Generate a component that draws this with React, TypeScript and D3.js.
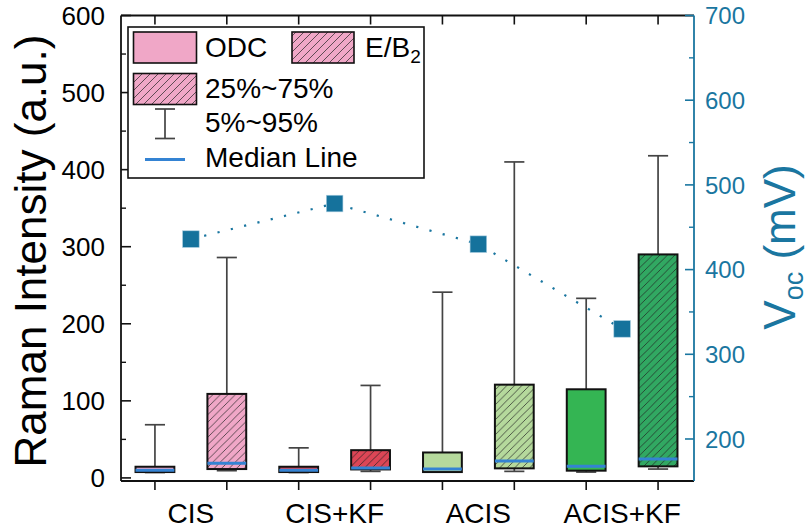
import React from "react";
import * as d3 from "d3";

// Categories and the two sample types per category
const categories = ["CIS", "CIS+KF", "ACIS", "ACIS+KF"];
const sampleTypes = ["ODC", "E/B2"];

// Box statistics, one entry per box (ODC, E/B2 for each category in order)
const whiskerLow = [7, 9.4, 7, 8.5, 7.6, 8.5, 7.6, 11.5];
const q1 = [7.6, 11.5, 7.6, 11, 7.6, 12.4, 9.4, 15];
const median = [10, 19, 10, 13, 11.5, 22, 15, 24.5];
const q3 = [14.5, 109, 14.5, 36, 33, 121, 115, 290];
const whiskerHigh = [69, 286, 39, 120, 241, 410, 233, 418];
const boxColors = ["#f0a7c7", "#f0a7c7", "#dc4656", "#dc4656", "#b5d99c", "#b5d99c", "#34b553", "#31a862"];
const boxHatched = [false, true, false, true, false, true, false, true];

// Open-circuit voltage per category (mV)
const voc = [436, 478, 430, 330];

// Axis ticks
const leftTicks = [0, 100, 200, 300, 400, 500, 600];
const leftMinor = [50, 150, 250, 350, 450, 550];
const rightTicks = [200, 300, 400, 500, 600, 700];
const rightMinor = [250, 350, 450, 550, 650];

const FONT = "'Liberation Sans', Arial, Helvetica, sans-serif";
const BLUE = "#1a76a0";
const MEDIAN = "#3483d3";

export default function App() {
  const W = 809, H = 531;
  const left = 121, right = 694, top = 15.5, bottom = 481;

  const x = d3.scaleLinear().domain([0.5, 8.5]).range([119, 694]);
  const yL = d3.scaleLinear().domain([-4, 600]).range([bottom, top]);
  const yR = d3.scaleLinear().domain([150.4, 700]).range([bottom, top]);
  const boxW = 0.54;
  const capW = 0.28;

  const boxes = whiskerLow.map((lo, i) => ({
    pos: i + 1,
    lo, q1: q1[i], med: median[i], q3: q3[i], hi: whiskerHigh[i],
    color: boxColors[i], hatched: boxHatched[i],
  }));

  const vocPts = voc.map((v, i) => ({ px: x(2 * i + 1.5), py: yR(v) }));
  const vocLine = d3.line<{ px: number; py: number }>().x(d => d.px).y(d => d.py)(vocPts) || "";

  const hatchId = (c: string) => "hatch-" + c.replace("#", "");
  const uniqueHatch = Array.from(new Set(boxes.filter(b => b.hatched).map(b => b.color)));

  const tickPositions = d3.range(1, 9);

  return (
    <svg width={W} height={H} style={{ position: "absolute", left: 0, top: 0, background: "#fff" }} fontFamily={FONT}>
      <defs>
        {uniqueHatch.map(c => (
          <pattern key={c} id={hatchId(c)} patternUnits="userSpaceOnUse" width={7.5} height={7.5}>
            <rect width={7.5} height={7.5} fill={c} />
            <path d="M-1,1 l2,-2 M0,7.5 l7.5,-7.5 M6.5,8.5 l2,-2" stroke="#222" strokeWidth={0.7} />
          </pattern>
        ))}
        <pattern id="hatch-legend" patternUnits="userSpaceOnUse" width={8} height={8}>
          <rect width={8} height={8} fill="#f0a7c7" />
          <path d="M-1,1 l2,-2 M0,8 l8,-8 M7,9 l2,-2" stroke="#222" strokeWidth={0.7} />
        </pattern>
      </defs>

      {/* Voc dotted connector */}
      <path d={vocLine} fill="none" stroke={BLUE} strokeWidth={2.2} strokeDasharray="2.2 11.5" />

      {/* Box plots */}
      {boxes.map((b, i) => {
        const cx = x(b.pos);
        const x0 = x(b.pos - boxW / 2), x1 = x(b.pos + boxW / 2);
        const c0 = x(b.pos - capW / 2), c1 = x(b.pos + capW / 2);
        return (
          <g key={i}>
            <line x1={cx} x2={cx} y1={yL(b.lo)} y2={yL(b.hi)} stroke="#444" strokeWidth={1.7} />
            <line x1={c0} x2={c1} y1={yL(b.hi)} y2={yL(b.hi)} stroke="#444" strokeWidth={1.7} />
            <line x1={c0} x2={c1} y1={yL(b.lo)} y2={yL(b.lo)} stroke="#444" strokeWidth={1.7} />
            <rect x={x0} y={yL(b.q3)} width={x1 - x0} height={yL(b.q1) - yL(b.q3)}
              fill={b.hatched ? `url(#${hatchId(b.color)})` : b.color} stroke="#111" strokeWidth={2} />
            <line x1={x0} x2={x1} y1={yL(b.med)} y2={yL(b.med)} stroke={MEDIAN} strokeWidth={3} />
          </g>
        );
      })}

      {/* Voc markers */}
      {vocPts.map((p, i) => (
        <rect key={i} x={p.px - 8.3} y={p.py - 8.3} width={16.6} height={16.6} fill="#15729c" stroke="#a9cde0" strokeWidth={0.6} />
      ))}

      {/* Frame */}
      <line x1={left} x2={right} y1={top} y2={top} stroke="#111" strokeWidth={1.8} />
      <line x1={left} x2={right} y1={bottom} y2={bottom} stroke="#111" strokeWidth={1.8} />
      <line x1={left} x2={left} y1={top} y2={bottom} stroke="#111" strokeWidth={1.8} />
      <line x1={right} x2={right} y1={top} y2={bottom} stroke={BLUE} strokeWidth={1.8} />

      {/* Top and bottom ticks */}
      {tickPositions.map(p => (
        <g key={p}>
          <line x1={x(p)} x2={x(p)} y1={top} y2={top + 9} stroke="#111" strokeWidth={1.6} />
          <line x1={x(p)} x2={x(p)} y1={bottom} y2={bottom + 9} stroke="#111" strokeWidth={1.6} />
        </g>
      ))}

      {/* Left axis */}
      {leftTicks.map(t => (
        <g key={t}>
          <line x1={left} x2={left + 10} y1={yL(t)} y2={yL(t)} stroke="#111" strokeWidth={1.6} />
          <text x={105} y={yL(t)} dy="0.36em" textAnchor="end" fontSize={26} fill="#000">{t}</text>
        </g>
      ))}
      {leftMinor.map(t => (
        <line key={t} x1={left} x2={left + 5} y1={yL(t)} y2={yL(t)} stroke="#111" strokeWidth={1.4} />
      ))}
      <text transform="translate(46,251) rotate(-90)" textAnchor="middle" fontSize={44} fill="#000">Raman Intensity (a.u.)</text>

      {/* Right axis */}
      {rightTicks.map(t => (
        <g key={t}>
          <line x1={right} x2={right - 9} y1={yR(t)} y2={yR(t)} stroke={BLUE} strokeWidth={1.6} />
          <text x={705} y={yR(t)} dy="0.36em" textAnchor="start" fontSize={24} fill={BLUE}>{t}</text>
        </g>
      ))}
      {rightMinor.map(t => (
        <line key={t} x1={right} x2={right - 5} y1={yR(t)} y2={yR(t)} stroke={BLUE} strokeWidth={1.4} />
      ))}
      <text transform="translate(795,247) rotate(-90)" textAnchor="middle" fontSize={44} fill={BLUE}>
        V<tspan fontSize={27} dy={8}>oc</tspan><tspan dy={-8}> (mV)</tspan>
      </text>

      {/* Category labels */}
      {categories.map((c, i) => (
        <text key={c} x={x(2 * i + 1.5)} y={523} textAnchor="middle" fontSize={28} fill="#000">{c}</text>
      ))}

      {/* Legend */}
      <g>
        <rect x={128} y={27} width={296} height={151} fill="#fff" stroke="#111" strokeWidth={1.6} />
        <rect x={133.5} y={32} width={63} height={31} fill="#f0a7c7" stroke="#111" strokeWidth={1.6} />
        <text x={205} y={57} fontSize={28} fill="#000">{sampleTypes[0]}</text>
        <rect x={292} y={32} width={62} height={31} fill="url(#hatch-legend)" stroke="#111" strokeWidth={1.6} />
        <text x={365} y={57} fontSize={28} fill="#000">E/B<tspan fontSize={19} dy={6}>2</tspan></text>
        <rect x={133.5} y={73.5} width={63} height={31} fill="url(#hatch-legend)" stroke="#111" strokeWidth={1.6} />
        <text x={205} y={98} fontSize={28} fill="#000">25%~75%</text>
        <line x1={165} x2={165} y1={109} y2={138.5} stroke="#444" strokeWidth={1.7} />
        <line x1={155} x2={175} y1={109} y2={109} stroke="#444" strokeWidth={1.7} />
        <line x1={155} x2={175} y1={138.5} y2={138.5} stroke="#444" strokeWidth={1.7} />
        <text x={205} y={132} fontSize={28} fill="#000">5%~95%</text>
        <line x1={145} x2={185} y1={159.5} y2={159.5} stroke={MEDIAN} strokeWidth={3} />
        <text x={205} y={167} fontSize={28} fill="#000">Median Line</text>
      </g>
    </svg>
  );
}
